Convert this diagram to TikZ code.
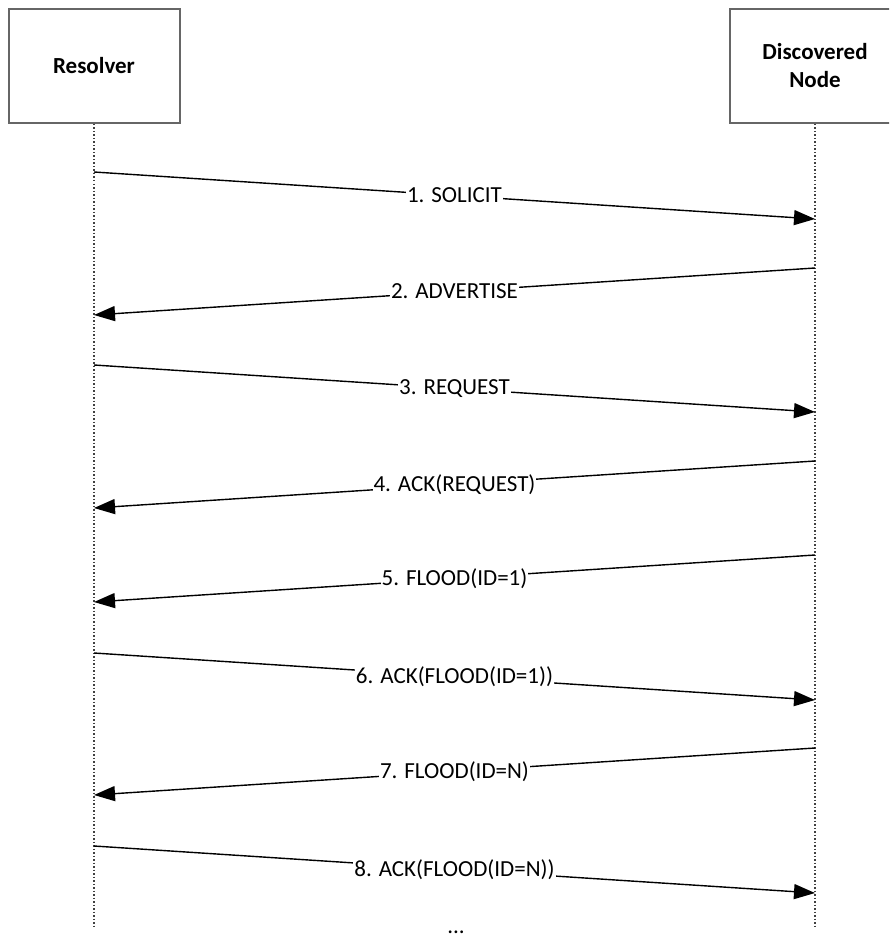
\documentclass[tikz,border=0pt]{standalone}
\usepackage{fontspec}
\setmainfont{Carlito}
\usetikzlibrary{arrows.meta}

\tikzset{
  actor/.style={draw=black!60, line width=2pt, minimum width=171pt, minimum height=114pt,
    align=center, font=\bfseries\fontsize{23}{28}\selectfont},
  lifeline/.style={black!75, dotted, line width=1.5pt},
  msg/.style={-{Triangle[length=21pt,width=15pt]}, line width=1.4pt},
  msglabel/.style={fill=white, inner sep=1pt, font=\fontsize{23}{28}\selectfont}
}

\begin{document}
\begin{tikzpicture}[x=1pt,y=-1pt]
  \clip (0,0) rectangle (889,944);

  % Participants
  \node[actor] (res) at (94,66) {Resolver};
  \node[actor] (disc) at (815,66) {Discovered\\Node};

  % Lifelines
  \coordinate (R) at (94,0);
  \coordinate (D) at (815,0);
  \coordinate (resend) at (94,928);
  \coordinate (discend) at (815,928);
  \draw[lifeline] (res.south) -- (resend);
  \draw[lifeline] (disc.south) -- (discend);

  % Messages
  \foreach \i/\y/\from/\to/\txt in {1/172/R/D/{1. SOLICIT},
      2/268/D/R/{2. ADVERTISE},
      3/365/R/D/{3. REQUEST},
      4/461/D/R/{4. ACK(REQUEST)},
      5/555/D/R/{5. FLOOD(ID=1)},
      6/653/R/D/{6. ACK(FLOOD(ID=1))},
      7/748/D/R/{7. FLOOD(ID=N)},
      8/846/R/D/{8. ACK(FLOOD(ID=N))}} {
    \coordinate (s\i) at (\from |- 0,\y);
    \coordinate (e\i) at (\to |- 0,\y+47);
    \draw[msg] (s\i) -- node[msglabel] {\txt} (e\i);
  }

  \node[font=\fontsize{23}{28}\selectfont] (more) at (456,932) {...};
\end{tikzpicture}
\end{document}
